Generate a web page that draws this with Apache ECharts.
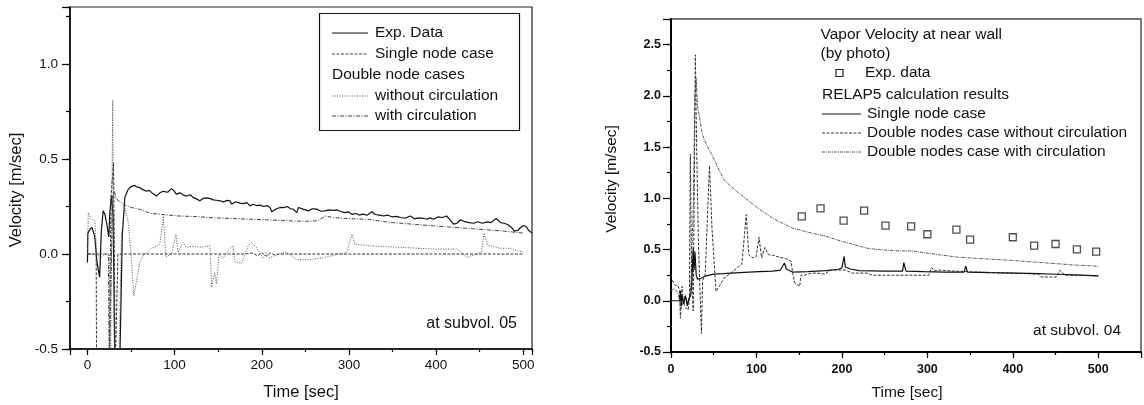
<!DOCTYPE html>
<html>
<head>
<meta charset="utf-8">
<script src="https://cdn.jsdelivr.net/npm/echarts@6/dist/echarts.min.js"></script>
<style>
html,body{margin:0;padding:0;background:#fff;}
#chart{width:1144px;height:405px;}
</style>
</head>
<body>
<div id="chart"></div>
<script>
// ---------------- LEFT CHART DATA (at subvol. 05) ----------------
const leftXRange = [-20, 510];
const leftYRange = [-0.5, 1.3];
const leftXLabelStep = 100;
const leftYLabelStep = 0.5;

const leftExpTime = [0, 0.5, 3, 5.3, 8.4, 11, 14, 15.9, 18, 20, 22.5, 24.5, 25.7, 27.6, 29.5, 31.5, 37, 40, 43, 46.7, 50, 54.4, 57, 60, 63, 67.5, 71, 75, 79.3, 83, 87, 92, 96.5, 99, 102, 106, 110, 113.8, 118, 121, 125, 129, 133, 136.7, 138.6, 142, 144.4, 148, 152, 156, 160, 163.6, 165.5, 170, 175, 179, 183, 186.5, 190, 194, 198, 202, 206, 209.5, 211.4, 213.4, 217, 221, 224.8, 229, 233, 236, 240.2, 242, 244, 248, 253.6, 258, 263, 268, 272.6, 277, 282, 286, 290, 295, 299, 303.4, 308, 312, 316, 320.7, 326.4, 330, 335, 339.8, 344, 350, 355, 359, 364, 370.5, 375, 380, 385, 389.6, 393, 397, 402, 407, 412, 416, 420, 424, 428, 433, 438, 443, 448, 453, 458.6, 463, 469, 474, 478, 482, 486, 490, 494, 497, 500, 503, 506, 510];
const leftExpVel = [-0.045, 0.11, 0.13, 0.14, 0.09, -0.044, -0.123, 0.12, 0.227, 0.21, 0.15, 0.09, 0.22, 0.305, 0.2, -0.6, -0.6, 0.1, 0.3, 0.34, 0.355, 0.361, 0.352, 0.35, 0.34, 0.33, 0.335, 0.318, 0.305, 0.322, 0.33, 0.325, 0.344, 0.335, 0.315, 0.322, 0.31, 0.305, 0.312, 0.298, 0.29, 0.28, 0.293, 0.295, 0.305, 0.29, 0.285, 0.283, 0.28, 0.274, 0.282, 0.28, 0.262, 0.275, 0.268, 0.265, 0.27, 0.253, 0.262, 0.255, 0.257, 0.25, 0.255, 0.245, 0.222, 0.218, 0.238, 0.245, 0.244, 0.25, 0.238, 0.236, 0.218, 0.245, 0.25, 0.235, 0.227, 0.238, 0.236, 0.225, 0.227, 0.232, 0.23, 0.232, 0.225, 0.218, 0.222, 0.209, 0.213, 0.205, 0.21, 0.204, 0.222, 0.208, 0.205, 0.2, 0.205, 0.195, 0.198, 0.192, 0.188, 0.2, 0.185, 0.19, 0.188, 0.183, 0.19, 0.183, 0.195, 0.192, 0.2, 0.18, 0.157, 0.162, 0.18, 0.17, 0.165, 0.162, 0.17, 0.162, 0.169, 0.165, 0.187, 0.165, 0.162, 0.155, 0.142, 0.12, 0.125, 0.14, 0.15, 0.145, 0.125, 0.11];

const leftSingleTime = [0, 10, 10.5, 25, 27, 30, 32, 34, 35, 60, 100, 132, 133, 134, 180, 190, 195, 200, 205, 210, 215, 220, 272, 273, 274, 350, 351, 352, 500];
const leftSingleVel = [0, 0, -0.6, -0.6, 0.3, 0.48, -0.6, -0.6, 0, 0, 0, 0, -0.01, 0, 0, 0.005, -0.01, 0.008, -0.012, 0.005, -0.005, 0, 0, -0.008, 0, 0, -0.01, 0, 0];

const leftNoCircTime = [0, 1, 4, 8.4, 10.7, 15, 20, 25, 26.5, 29, 31, 36, 39, 41, 43, 46.7, 50, 53.2, 56, 60, 64, 67.7, 73, 79.3, 83, 87, 90, 96.5, 101.5, 104, 109.7, 113.6, 120, 129, 135, 140.6, 142.5, 146, 148, 151, 155.7, 161.4, 167, 169, 176.7, 184.4, 188, 193.8, 201.5, 205, 209, 217, 228.5, 240, 253.6, 270, 297.7, 303.4, 307, 320.7, 360, 397, 423.8, 435.6, 440, 447, 452, 455, 459, 474, 485, 490, 500];
const leftNoCircVel = [0.0, 0.218, 0.183, 0.175, 0.0, -0.02, 0.0, 0.0, -0.6, 0.81, -0.6, -0.6, 0.1, 0.183, 0.24, 0.17, 0.0, -0.22, -0.15, -0.045, -0.01, 0.005, 0.03, 0.04, 0.05, 0.2, -0.015, 0.0, 0.103, 0.008, 0.06, 0.035, 0.04, 0.035, 0.04, 0.044, -0.175, -0.096, -0.157, -0.005, -0.022, 0.02, 0.044, -0.04, -0.05, 0.044, 0.061, 0.035, -0.02, 0.01, -0.02, -0.005, 0.01, -0.03, -0.03, -0.02, 0.008, 0.104, 0.052, 0.044, 0.035, 0.026, 0.026, -0.018, -0.01, 0.0, 0.01, 0.11, 0.046, 0.03, 0.03, 0.02, 0.01];

const leftCircTime = [0, 24, 25, 27, 29, 31, 33, 36, 42, 50, 60, 72, 85, 105, 125, 146, 165, 187, 205.7, 228, 250, 263, 268, 272.8, 282, 300, 320.7, 347.5, 370, 397, 433, 474, 500];
const leftCircVel = [0, 0, -0.6, -0.6, 0.3, 0.33, 0.29, 0.28, 0.26, 0.245, 0.235, 0.215, 0.208, 0.2, 0.197, 0.19, 0.187, 0.183, 0.18, 0.175, 0.172, 0.175, 0.185, 0.2, 0.192, 0.186, 0.183, 0.166, 0.158, 0.148, 0.136, 0.122, 0.11];

// ---------------- RIGHT CHART DATA (at subvol. 04) ----------------
const rightXRange = [0, 550];
const rightYRange = [-0.5, 2.75];
const rightXLabelStep = 100;
const rightYLabelStep = 0.5;

const rightExpTime = [153, 175, 202, 226, 251, 281, 300, 334, 350, 400, 425, 450, 475, 497.5];
const rightExpVel = [0.824, 0.902, 0.782, 0.88, 0.733, 0.727, 0.649, 0.694, 0.597, 0.62, 0.538, 0.554, 0.502, 0.48];

const rightSingleTime = [0, 10, 11, 12, 13, 15, 17, 19, 21, 23, 24.5, 26, 27, 28, 29.5, 31, 35, 40, 50, 61, 80, 103, 119, 128, 132.7, 135, 142, 160, 181, 195, 200, 202.6, 204, 210, 220, 250, 271, 272.4, 275, 296, 320, 343, 345, 347, 373, 420, 451, 480, 500];
const rightSingleVel = [0, 0, 0.1, -0.05, 0.05, -0.03, 0.05, -0.05, 0.02, 0.05, 0.2, 0.51, 0.3, 0.48, 0.25, 0.21, 0.22, 0.24, 0.26, 0.265, 0.275, 0.285, 0.29, 0.3, 0.369, 0.31, 0.28, 0.285, 0.295, 0.305, 0.32, 0.434, 0.33, 0.31, 0.295, 0.29, 0.29, 0.372, 0.29, 0.285, 0.28, 0.28, 0.337, 0.28, 0.275, 0.268, 0.259, 0.25, 0.242];

const rightNoCircTime = [1.5, 5, 8, 10, 11, 13, 14, 16, 18, 20, 21.5, 22.6, 24, 26, 28.5, 30, 32, 35.6, 37, 40, 45, 48, 52.7, 57, 62, 70, 78.7, 83, 88, 91, 95, 99.6, 103, 106, 110, 114, 119, 125, 135, 140.5, 142.5, 145, 147, 150.6, 152, 156, 165, 170.7, 180, 187, 204, 212, 229, 235.5, 260, 296, 301.5, 305, 308, 313, 330, 360, 397, 430, 433, 451, 455, 461, 480, 500];
const rightNoCircVel = [0.2, 0.15, 0.15, 0.1, -0.17, 0.14, 0.0, -0.05, -0.07, -0.09, 0.0, 1.43, 0.3, -0.1, 2.4, 1.5, 0.6, -0.32, 0.2, 0.25, 1.32, 0.7, 0.09, 0.15, 0.22, 0.27, 0.33, 0.36, 0.84, 0.45, 0.42, 0.43, 0.62, 0.42, 0.52, 0.45, 0.444, 0.43, 0.41, 0.385, 0.265, 0.17, 0.161, 0.14, 0.25, 0.25, 0.27, 0.27, 0.26, 0.3, 0.3, 0.27, 0.27, 0.249, 0.249, 0.249, 0.249, 0.324, 0.29, 0.3, 0.29, 0.28, 0.27, 0.26, 0.232, 0.232, 0.298, 0.25, 0.248, 0.242];

const rightCircTime = [0, 4, 8, 12, 16, 20, 23, 26, 28, 29.5, 31, 32.6, 36, 39, 43, 47, 55, 62, 75, 87, 104, 120, 142, 160, 181, 200, 231.7, 250, 270.5, 281.6, 300, 313, 336, 355, 397, 438, 470, 500];
const rightCircVel = [0.1, 0.12, 0.08, -0.08, 0.05, -0.02, 0.1, 0.9, 2.0, 2.17, 1.9, 1.83, 1.65, 1.57, 1.5, 1.44, 1.3, 1.18, 1.08, 1.0, 0.89, 0.8, 0.71, 0.67, 0.63, 0.58, 0.509, 0.495, 0.486, 0.487, 0.465, 0.45, 0.425, 0.415, 0.395, 0.37, 0.35, 0.337];

// ---------------- helpers ----------------
function zip(a, b) { return a.map((v, i) => [v, b[i]]); }
const FONT = '"Liberation Sans", Arial, Helvetica, sans-serif';
function onStep(v, step) { return Math.abs(v / step - Math.round(v / step)) < 1e-6; }

function lineSeries(name, xi, yi, t, v, color, width, dash) {
  return {
    name: name, type: 'line', xAxisIndex: xi, yAxisIndex: yi,
    data: zip(t, v), showSymbol: false, symbol: 'none', clip: true,
    lineStyle: { color: color, width: width, type: dash },
    emphasis: { disabled: true }, z: 3
  };
}

const chart = echarts.init(document.getElementById('chart'), null, { renderer: 'canvas' });

// main axis (long ticks + labels) and a companion axis for the short minor ticks
function makeAxes(dim, grid, range, step, lineW, bold, margin, majorLen, minorLen, useInterval) {
  const isX = dim === 'x';
  const pos = isX ? 'bottom' : 'left';
  const labelFmt = v => onStep(v, step) ? (isX ? String(Math.round(v)) : (Math.abs(v) < 1e-9 ? '0.0' : v.toFixed(1))) : '';
  const main = {
    type: 'value', gridIndex: grid, min: range[0], max: range[1], position: pos, offset: 0,
    axisLine: { show: true, onZero: false, lineStyle: { color: '#000', width: lineW } },
    axisTick: { show: true, inside: false, length: majorLen, lineStyle: { color: '#000', width: 1.2 } },
    axisLabel: { show: true, formatter: labelFmt, margin: margin, color: '#111',
                 showMinLabel: true, showMaxLabel: true, hideOverlap: false,
                 fontSize: bold ? 12.5 : 13.5, fontWeight: bold ? 'bold' : 'normal', fontFamily: FONT },
    splitLine: { show: false }, minorTick: { show: false }
  };
  const minor = {
    type: 'value', gridIndex: grid, min: range[0], max: range[1], position: pos, offset: 0,
    axisLine: { show: false, onZero: false },
    axisTick: { show: true, inside: false, length: minorLen, lineStyle: { color: '#000', width: 1.2 } },
    axisLabel: { show: false }, splitLine: { show: false }
  };
  if (useInterval) {
    main.interval = step;
    minor.interval = step / 2;
  } else {
    main.splitNumber = 5;
    minor.splitNumber = 10;
  }
  return [main, minor];
}

function txt(text, x, y, size, opts) {
  opts = opts || {};
  return { type: 'text', x: x, y: y, rotation: opts.rotation || 0, z: 10, silent: true,
    style: { text: text, x: 0, y: 0, fill: '#111', fontSize: size, fontFamily: FONT,
             align: opts.align || 'left', verticalAlign: 'middle' } };
}
function seg(x1, x2, y, dash, color) {
  return { type: 'line', z: 10, silent: true, shape: { x1: x1, y1: y, x2: x2, y2: y },
    style: { stroke: color || '#111', lineWidth: 1, lineDash: dash } };
}

const graphics = [
  { type: 'rect', z: 9, silent: true, shape: { x: 319.5, y: 13.5, width: 200, height: 117 },
    style: { fill: '#fff', stroke: '#111', lineWidth: 1.2 } },
  seg(332, 368, 33, null, '#111'),
  txt('Exp. Data', 375, 33, 15.5),
  seg(332, 368, 54, [3, 1.5], '#444'),
  txt('Single node case', 375, 54, 15.5),
  txt('Double node cases', 332, 75, 15.5),
  seg(332, 368, 96, [1, 1.5], '#555'),
  txt('without circulation', 375, 96, 15.5),
  seg(332, 368, 116, [4, 1.5, 1, 1.5], '#444'),
  txt('with circulation', 375, 116, 15.5),
  txt('at subvol. 05', 517, 324, 16, { align: 'right' }),
  txt('Time [sec]', 301, 392, 16.5, { align: 'center' }),
  txt('Velocity [m/sec]', 16, 190, 16.5, { align: 'center', rotation: Math.PI / 2 }),
  txt('Vapor Velocity at near wall', 820.5, 35, 15.5),
  txt('(by photo)', 820.5, 54, 15.5),
  { type: 'rect', z: 10, silent: true, shape: { x: 836, y: 69.5, width: 7, height: 7 },
    style: { fill: '#fff', stroke: '#222', lineWidth: 1.2 } },
  txt('Exp. data', 865, 73, 15.5),
  txt('RELAP5 calculation results', 822, 95, 15.5),
  seg(822, 861, 114, null, '#111'),
  txt('Single node case', 867, 114, 15.5),
  seg(822, 861, 133, [3, 1.5], '#333'),
  txt('Double nodes case without circulation', 867, 133, 15.5),
  seg(822, 861, 152, [3, 1, 1, 1], '#555'),
  txt('Double nodes case with circulation', 867, 152, 15.5),
  txt('at subvol. 04', 1121, 331, 15.5, { align: 'right' }),
  txt('Time [sec]', 907, 393, 15.5, { align: 'center' }),
  txt('Velocity [m/sec]', 612, 179, 15.5, { align: 'center', rotation: Math.PI / 2 })
];

const option = {
  animation: false,
  backgroundColor: '#fff',
  grid: [
    { left: 70, top: 7, width: 462, height: 342, show: true, borderColor: '#222', borderWidth: 1.2, backgroundColor: 'transparent' },
    { left: 671, top: 19, width: 471, height: 333, show: true, borderColor: '#444', borderWidth: 1.4, backgroundColor: 'transparent' }
  ],
  xAxis: [].concat(
    makeAxes('x', 0, leftXRange, leftXLabelStep, 1.5, false, 9, 6, 3, false),
    makeAxes('x', 1, rightXRange, rightXLabelStep, 2, true, 11, 6, 3, true)
  ),
  yAxis: [].concat(
    makeAxes('y', 0, leftYRange, leftYLabelStep, 1.5, false, 12, 8, 4, true),
    makeAxes('y', 1, rightYRange, rightYLabelStep, 2, true, 10, 8, 4, true)
  ),
  series: [
    lineSeries('Exp. Data', 0, 0, leftExpTime, leftExpVel, '#111', 1.2, 'solid'),
    lineSeries('Single node case', 0, 0, leftSingleTime, leftSingleVel, '#333', 1, [3, 1.5]),
    lineSeries('without circulation', 0, 0, leftNoCircTime, leftNoCircVel, '#555', 1, [1, 1.5]),
    lineSeries('with circulation', 0, 0, leftCircTime, leftCircVel, '#444', 1, [4, 1.5, 1, 1.5]),

    lineSeries('Double nodes case with circulation', 2, 2, rightCircTime, rightCircVel, '#555', 1, [3, 1, 1, 1]),
    lineSeries('Double nodes case without circulation', 2, 2, rightNoCircTime, rightNoCircVel, '#333', 1, [3, 1.5]),
    lineSeries('Single node case', 2, 2, rightSingleTime, rightSingleVel, '#111', 1.2, 'solid'),
    { name: 'Exp. data', type: 'scatter', xAxisIndex: 2, yAxisIndex: 2,
      data: zip(rightExpTime, rightExpVel), symbol: 'rect', symbolSize: 7,
      itemStyle: { color: '#fff', borderColor: '#222', borderWidth: 1.3 }, z: 5,
      emphasis: { disabled: true } }
  ],
  graphic: graphics
};
chart.setOption(option);
</script>
</body>
</html>
